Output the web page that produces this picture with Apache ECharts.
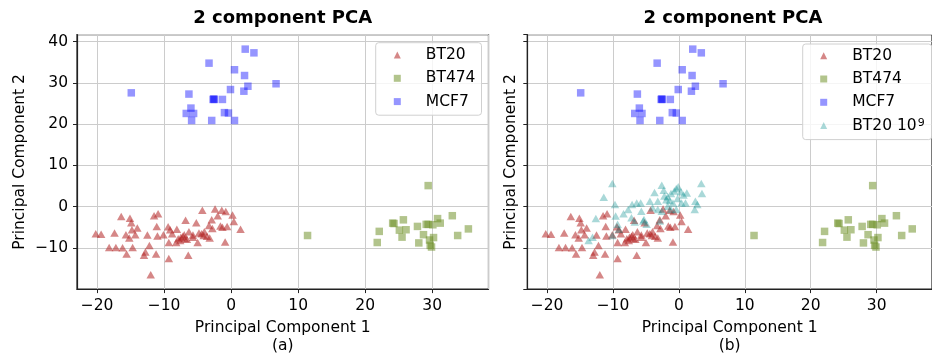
<!DOCTYPE html>
<html><head><meta charset="utf-8">
<script src="https://cdn.jsdelivr.net/npm/echarts@6/dist/echarts.min.js"></script>
<style>html,body{margin:0;padding:0;background:#fff}#c{width:932px;height:360px}</style>
</head><body><div id="c"></div>
<script>
const titleText = '2 component PCA';
const xName = 'Principal Component 1';
const yName = 'Principal Component 2';
const subLabels = ['(a)', '(b)'];
const seriesNames = ['BT20', 'BT474', 'MCF7', 'BT20 10^9'];

const bt20 = [
[-20.2,-6.6],[-19.4,-6.7],[-17.4,-6.4],[-18.2,-9.9],[-17.2,-9.9],[-16.2,-10.0],[-15.6,-11.5],
[-16.4,-2.4],[-15.1,-2.8],[-14.9,-3.9],[-15.7,-6.8],[-15.2,-7.6],[-14.7,-9.9],[-14.3,-6.8],
[-14.0,-5.2],[-14.8,-5.6],[-12.5,-6.9],[-12.2,-9.4],[-13.0,-11.8],[-12.8,-11.0],[-12.0,-16.5],
[-11.5,-2.2],[-10.9,-1.7],[-11.1,-4.8],[-11.0,-7.1],[-11.2,-11.5],[-10.1,-6.8],[-9.4,-4.9],
[-9.1,-5.6],[-9.3,-8.7],[-9.3,-12.6],[-8.1,-5.5],[-8.2,-8.7],[-7.6,-8.2],[-7.9,-7.8],[-7.5,-7.4],
[-7.2,-7.2],[-6.8,-3.3],[-7.0,-6.8],[-6.4,-11.8],[-6.3,-6.1],[-5.7,-6.9],[-5.2,-3.9],[-5.0,-8.7],
[-4.8,-6.4],[-4.3,-0.9],[-4.4,-6.6],[-4.0,-6.1],[-3.6,-7.2],[-3.2,-7.6],[-3.3,-4.6],[-2.9,-3.2],
[-2.8,-5.3],[-2.4,-0.6],[-2.0,-2.2],[-1.6,-4.7],[-1.4,-0.9],[-1.3,-5.0],[-0.8,-1.2],[-0.6,-4.8],
[-0.9,-8.6],[0.2,-2.0],[0.4,-3.6],[1.4,-5.5],[-8.8,-6.6],[-6.9,-7.7],[-5.7,-7.4],[-4.1,-7.0],
[-6.6,-7.9]
];
const bt474 = [
[29.4,5.1],[11.4,-7.0],[22.1,-6.0],[21.8,-8.7],[24.1,-4.0],[24.3,-4.1],[25.7,-3.2],[25.1,-5.7],
[25.5,-7.4],[26.1,-5.6],[27.8,-4.8],[28.0,-8.8],[28.7,-6.8],[29.1,-4.3],[29.4,-4.3],[29.6,-8.1],
[29.7,-9.4],[29.9,-9.8],[30.2,-7.5],[30.1,-4.4],[30.8,-2.9],[31.2,-4.0],[33.0,-2.2],[33.8,-7.0],
[35.4,-5.4]
];
const mcf7 = [
[-14.9,27.6],[-6.3,27.3],[-3.3,34.8],[0.5,33.2],[2.1,38.2],[3.4,37.3],[2.0,31.8],[2.5,29.2],
[1.9,28.0],[-0.1,28.4],[6.7,29.8],[-2.7,26.0],[-2.5,26.0],[-2.6,26.1],[-1.3,26.0],[-6.0,23.9],
[-6.7,22.6],[-5.6,22.6],[-5.9,20.9],[-2.9,20.9],[-1.0,22.8],[-0.4,22.7],[0.5,20.9]
];
const bt20e9 = [
[-10.1,5.6],[-11.4,2.3],[-9.7,0.5],[-12.6,-2.9],[-13.7,-8.2],[-13.1,-7.4],[-9.6,-2.3],[-9.3,-4.3],
[-10.1,-7.0],[-9.1,-5.5],[-8.4,-1.7],[-7.7,-0.7],[-7.1,0.5],[-6.4,0.9],[-5.8,0.9],[-7.2,-2.7],
[-6.7,-3.7],[-5.7,-1.1],[-5.3,-3.1],[-4.9,-4.3],[-4.4,1.3],[-4.0,-0.3],[-3.7,3.4],[-2.6,5.2],
[-2.3,4.0],[-3.2,1.3],[-1.9,1.7],[-1.7,2.4],[-1.2,3.2],[-0.4,4.4],[-0.2,2.0],[0.3,3.6],[0.7,2.8],
[0.4,0.9],[-0.9,0.9],[-1.7,0.1],[-3.2,-0.7],[-2.6,-1.1],[-1.2,-0.7],[-0.4,-0.7],[1.0,0.9],[2.5,1.3],
[2.8,0.5],[2.4,-0.7],[3.4,5.6],[3.5,3.2],[-5.4,-3.5],[-2.9,-3.5],[-1.4,1.5],[-0.7,3.8],[-2.2,2.6],
[-0.1,4.8],[1.2,3.3]
];

const FONT = 'DejaVu Sans';
const COLORS = ['rgba(178,34,34,0.68)', 'rgba(107,142,35,0.65)', 'rgba(0,0,255,0.52)', 'rgba(0,139,139,0.42)'];
const SYMBOLS = ['triangle', 'rect', 'rect', 'triangle'];
const SIZES = [[8.5,7.5], 7.5, 7.5, [8.5,7.5]];

const chart = echarts.init(document.getElementById('c'), null, {renderer: 'canvas'});
const grids = [
  {left: 77, top: 34.7, width: 411.5, height: 260, show: true, borderColor: '#222', borderWidth: 1.2, backgroundColor: 'transparent'},
  {left: 527.3, top: 34.7, width: 411.5, height: 260, show: true, borderColor: '#222', borderWidth: 1.2, backgroundColor: 'transparent'}
];
function fmt(v) { return String(v).replace('-', '\u2212'); }
const axisCommon = {
  type: 'value', splitNumber: 5,
  axisLine: {show: true, onZero: false, lineStyle: {color: '#222', width: 1.2}},
  axisTick: {show: true, inside: false, length: 4, lineStyle: {color: '#222', width: 1}},
  splitLine: {show: true, lineStyle: {color: '#cccccc', width: 1}},
  nameTextStyle: {fontFamily: FONT, fontSize: 15.5, color: '#000', lineHeight: 18}
};
const xAxes = [0, 1].map(i => Object.assign({}, axisCommon, {
  gridIndex: i, min: -23, max: 38.4,
  name: xName + '\n' + subLabels[i], nameLocation: 'middle', nameGap: 29,
  axisLabel: {show: true, margin: 9, showMinLabel: false, showMaxLabel: false, formatter: fmt,
    fontFamily: FONT, fontSize: 15.5, color: '#000'}
}));
const yAxes = [0, 1].map(i => Object.assign({}, axisCommon, {
  gridIndex: i, min: -20, max: 41.7,
  name: yName, nameLocation: 'middle', nameGap: i === 0 ? 48 : 7,
  axisLabel: {show: i === 0, margin: 9, showMinLabel: false, showMaxLabel: false, formatter: fmt,
    fontFamily: FONT, fontSize: 15.5, color: '#000'}
}));

const datasets = [bt20, bt474, mcf7, bt20e9];
const series = [];
[0, 1].forEach(g => {
  const n = g === 0 ? 3 : 4;
  for (let k = 0; k < n; k++) {
    series.push({
      type: 'scatter', name: seriesNames[k], xAxisIndex: g, yAxisIndex: g,
      data: datasets[k], symbol: SYMBOLS[k], symbolSize: SIZES[k],
      itemStyle: {color: COLORS[k]}, silent: true
    });
  }
});

function legendFmt(name) {
  const p = name.split('^');
  return p.length > 1 ? p[0] + '{sup|' + p[1] + '}' : name;
}
const legendCommon = {
  orient: 'vertical', itemWidth: 7, itemHeight: 7, itemGap: 7.3,
  backgroundColor: 'rgba(255,255,255,0.8)', borderColor: '#d0d0d0', borderWidth: 1, borderRadius: 3,
  selectedMode: false, formatter: legendFmt,
  textStyle: {fontFamily: FONT, fontSize: 15.5, color: '#000', lineHeight: 16, padding: [0, 0, 0, 20],
    rich: {sup: {fontFamily: FONT, fontSize: 11, color: '#000', lineHeight: 16, verticalAlign: 'top', padding: [0, 0, 6, 1]}}}
};
const legends = [
  Object.assign({}, legendCommon, {left: 375.7, top: 42.7, padding: [4.3, 6, 5.6, 18.1], data: seriesNames.slice(0, 3)}),
  Object.assign({}, legendCommon, {left: 802.7, top: 44, padding: [3.7, 7, 5, 17.5], data: seriesNames.slice(0, 4)})
];

chart.setOption({
  animation: false,
  backgroundColor: '#fff',
  title: [
    {text: titleText, left: 282.7, top: 9, textAlign: 'center', padding: 0,
      textStyle: {fontFamily: FONT, fontSize: 18, fontWeight: 'bold', color: '#000'}},
    {text: titleText, left: 733, top: 9, textAlign: 'center', padding: 0,
      textStyle: {fontFamily: FONT, fontSize: 18, fontWeight: 'bold', color: '#000'}}
  ],
  grid: grids, xAxis: xAxes, yAxis: yAxes, legend: legends, series: series
});
</script></body></html>
